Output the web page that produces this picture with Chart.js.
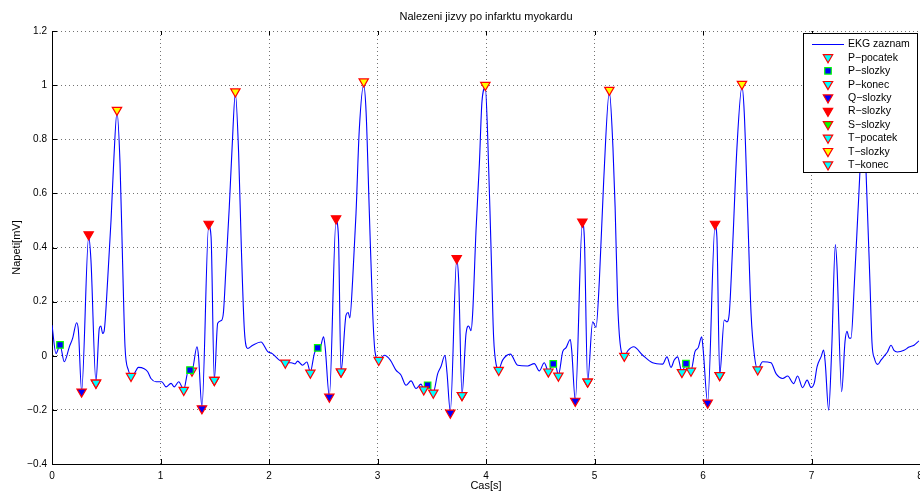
<!DOCTYPE html>
<html>
<head>
<meta charset="utf-8">
<title>Nalezeni jizvy po infarktu myokardu</title>
<script src="https://cdn.jsdelivr.net/npm/chart.js@4.4.1/dist/chart.umd.min.js"></script>
<style>
    html, body { margin: 0; padding: 0; background: #fff; }
    #wrap { width: 920px; height: 491px; position: relative; }
</style>
</head>
<body>
<div id="wrap"><canvas id="chartEkg"></canvas></div>
<script>
// EKG zaznam - cas [s] a napeti [mV]
const ekgCas = [
    0.0, 0.037, 0.074, 0.113, 0.16, 0.19, 0.227, 0.243, 0.273, 0.338, 0.359, 0.405, 0.436, 0.45, 0.467, 0.48,
    0.513, 0.544, 0.568, 0.599, 0.627, 0.651, 0.673, 0.704, 0.728, 0.759, 0.796, 0.85, 0.882, 0.912, 0.959,
    1.011, 1.051, 1.097, 1.127, 1.168, 1.214, 1.251, 1.272, 1.29, 1.336, 1.35, 1.382, 1.444, 1.466, 1.496,
    1.527, 1.56, 1.58, 1.604, 1.634, 1.66, 1.69, 1.72, 1.745, 1.773, 1.804, 1.85, 1.926, 1.988, 2.03, 2.095,
    2.15, 2.204, 2.24, 2.263, 2.309, 2.349, 2.381, 2.418, 2.449, 2.47, 2.503, 2.518, 2.556, 2.618, 2.64,
    2.664, 2.71, 2.73, 2.745, 2.771, 2.802, 2.832, 2.873, 2.895, 2.925, 2.956, 2.977, 3.011, 3.063, 3.118,
    3.17, 3.216, 3.263, 3.309, 3.355, 3.401, 3.426, 3.462, 3.514, 3.555, 3.585, 3.622, 3.64, 3.671, 3.73,
    3.748, 3.779, 3.816, 3.84, 3.862, 3.877, 3.908, 3.939, 3.963, 3.994, 4.014, 4.046, 4.07, 4.095, 4.117,
    4.153, 4.224, 4.292, 4.384, 4.445, 4.491, 4.537, 4.575, 4.62, 4.645, 4.667, 4.707, 4.738, 4.777, 4.79,
    4.823, 4.888, 4.906, 4.937, 4.983, 5.014, 5.045, 5.085, 5.137, 5.17, 5.19, 5.214, 5.245, 5.275, 5.31,
    5.361, 5.444, 5.536, 5.628, 5.668, 5.705, 5.735, 5.766, 5.806, 5.843, 5.889, 5.926, 5.956, 5.988, 6.0,
    6.043, 6.111, 6.128, 6.154, 6.196, 6.22, 6.242, 6.273, 6.313, 6.359, 6.38, 6.412, 6.443, 6.474, 6.504,
    6.55, 6.627, 6.673, 6.735, 6.78, 6.835, 6.872, 6.918, 6.96, 6.995, 7.026, 7.051, 7.088, 7.112, 7.127,
    7.158, 7.186, 7.22, 7.235, 7.278, 7.309, 7.327, 7.348, 7.364, 7.395, 7.426, 7.447, 7.472, 7.5, 7.539,
    7.558, 7.58, 7.61, 7.64, 7.677, 7.7, 7.733, 7.76, 7.79, 7.853, 7.899, 7.945, 7.99
];
const ekgNapeti = [
    0.113, 0.008, 0.04, -0.022, 0.033, 0.064, 0.122, 0.095, -0.13, 0.44, 0.353, -0.095, 0.101, 0.11, 0.082, 0.09,
    0.28, 0.5, 0.71, 0.9, 0.71, 0.34, 0.033, -0.053, -0.07, -0.065, -0.043, -0.048, -0.059, -0.084, -0.096,
    -0.096, -0.115, -0.102, -0.115, -0.096, -0.125, -0.059, -0.05, -0.055, 0.033, 0.0, -0.19, 0.48, 0.44, -0.088,
    0.12, 0.13, 0.16, 0.33, 0.55, 0.77, 0.97, 0.75, 0.4, 0.095, 0.027, 0.039, 0.051, 0.015, 0.008, -0.016,
    -0.026, -0.026, -0.03, -0.02, -0.035, -0.023, -0.06, 0.008, 0.029, 0.03, 0.07, 0.03, -0.15, 0.5, 0.44,
    -0.058, 0.15, 0.16, 0.14, 0.28, 0.526, 0.834, 1.0, 0.9, 0.526, 0.156, 0.015, -0.016, 0.002, -0.016,
    -0.053, -0.071, -0.109, -0.093, -0.121, -0.105, -0.122, -0.109, -0.135, -0.066, -0.04, 0.002, -0.06, -0.205, 0.355,
    0.28, -0.143, 0.082, 0.11, 0.093, 0.156, 0.464, 0.71, 0.94, 0.99, 0.83, 0.403, 0.07, -0.035, -0.05,
    -0.016, 0.006, -0.035, -0.038, -0.029, -0.056, -0.026, -0.057, -0.03, -0.04, -0.072, 0.015, 0.03, 0.06, 0.02,
    -0.165, 0.49, 0.44, -0.094, 0.125, 0.105, 0.28, 0.649, 0.975, 0.77, 0.55, 0.19, 0.02, -0.001, 0.02,
    0.033, 0.002, -0.026, -0.031, -0.004, -0.043, -0.016, -0.004, -0.06, -0.029, -0.055, 0.015, 0.03, 0.07, 0.03,
    -0.172, 0.48, 0.44, -0.07, 0.132, 0.125, 0.156, 0.403, 0.77, 0.995, 0.9, 0.526, 0.156, 0.0, -0.05,
    -0.022, -0.026, -0.066, -0.084, -0.075, -0.103, -0.075, -0.118, -0.09, -0.117, -0.1, -0.041, -0.004, 0.021, -0.028,
    -0.201, 0.021, 0.411, 0.33, -0.133, 0.053, 0.09, 0.065, 0.065, 0.267, 0.514, 0.686, 0.97, 0.71, 0.268,
    0.045, -0.01, -0.032, -0.016, 0.002, 0.014, 0.039, 0.02, 0.014, 0.02, 0.032, 0.039, 0.055
];

// detekovane body [cas, napeti]
const pPocatek = [[1.214, -0.127], [2.381, -0.063], [3.426, -0.125], [4.575, -0.059], [5.806, -0.061]];
const pSlozky  = [[0.074, 0.04], [1.272, -0.053], [2.449, 0.029], [3.462, -0.109], [4.62, -0.03], [5.843, -0.029]];
const pKonec   = [[1.29, -0.056], [3.514, -0.137], [4.667, -0.074], [5.889, -0.056]];
const qSlozky  = [[0.273, -0.133], [1.382, -0.195], [2.556, -0.152], [3.671, -0.211], [4.823, -0.167], [6.043, -0.174]];
const rSlozky  = [[0.338, 0.448], [1.444, 0.487], [2.618, 0.507], [3.73, 0.36], [4.888, 0.495], [6.111, 0.487]];
const sSlozky  = [[0.405, -0.1], [1.496, -0.09], [2.664, -0.059], [3.779, -0.146], [4.937, -0.096], [6.154, -0.072]];
const tPocatek = [[0.405, -0.1], [1.496, -0.09], [2.664, -0.059], [3.779, -0.146], [4.937, -0.096], [6.154, -0.072]];
const tSlozky  = [[0.599, 0.908], [1.69, 0.976], [2.873, 1.013], [3.994, 1.0], [5.137, 0.982], [6.359, 1.004]];
const tKonec   = [[0.728, -0.075], [2.15, -0.026], [3.011, -0.016], [4.117, -0.053], [5.275, -0.001], [6.504, -0.051]];

const yTicks = [-0.4, -0.2, 0, 0.2, 0.4, 0.6, 0.8, 1, 1.2];
const nazevGrafu = 'Nalezeni jizvy po infarktu myokardu';

Chart.defaults.font.family = '"Liberation Sans", Arial, Helvetica, sans-serif';
Chart.defaults.color = '#000';

function znacky(label, body, styl, vypln, okraj, poradi) {
    return {
        label: label,
        data: body.map(b => ({ x: b[0], y: b[1] })),
        showLine: false,
        pointStyle: styl,
        pointRotation: styl === 'triangle' ? 180 : 0,
        pointRadius: styl === 'triangle' ? 5.4 : 4.6,
        pointBorderWidth: 1.2,
        pointBackgroundColor: vypln,
        pointBorderColor: okraj,
        order: poradi || 0
    };
}

function kresliZnacku(ctx, ds, x, y) {
    const r = ds.pointRadius;
    ctx.beginPath();
    if (ds.pointStyle === 'rect') {
        const s = r * Math.SQRT1_2;
        ctx.rect(x - s, y - s, 2 * s, 2 * s);
    } else {
        ctx.moveTo(x, y + r);
        ctx.lineTo(x - r * 0.866, y - r / 2);
        ctx.lineTo(x + r * 0.866, y - r / 2);
        ctx.closePath();
    }
    ctx.fillStyle = ds.pointBackgroundColor;
    ctx.strokeStyle = ds.pointBorderColor;
    ctx.lineWidth = ds.pointBorderWidth;
    ctx.fill();
    ctx.stroke();
}

// nadpis nad stredem grafu + vnitrni carky os (jako v Matlabu)
const nadpisTicky = {
    id: 'nadpisTicky',
    afterDraw(chart) {
        const ctx = chart.ctx;
        const area = chart.chartArea;
        const sx = chart.scales.x, sy = chart.scales.y;
        ctx.save();
        ctx.fillStyle = '#000';
        ctx.font = '11px "Liberation Sans", Arial, sans-serif';
        ctx.textAlign = 'center';
        ctx.textBaseline = 'middle';
        ctx.fillText(nazevGrafu, (area.left + area.right) / 2, 17);

        ctx.strokeStyle = '#000';
        ctx.lineWidth = 1;
        ctx.beginPath();
        sx.ticks.forEach(t => {
            const px = Math.round(sx.getPixelForValue(t.value)) + 0.5;
            ctx.moveTo(px, area.bottom);
            ctx.lineTo(px, area.bottom - 5);
            ctx.moveTo(px, area.top);
            ctx.lineTo(px, area.top + 4);
        });
        sy.ticks.forEach(t => {
            const py = Math.round(sy.getPixelForValue(t.value)) + 0.5;
            ctx.moveTo(area.left, py);
            ctx.lineTo(area.left + 5, py);
        });
        ctx.stroke();
        ctx.restore();
    }
};

// legenda v ramecku uvnitr grafu (vpravo nahore)
const legendaBox = {
    id: 'legendaBox',
    afterDraw(chart) {
        const ctx = chart.ctx;
        const area = chart.chartArea;
        const w = 114, h = 139, rowH = 13.4;
        const x0 = area.right - w - 3, y0 = area.top + 2;
        ctx.save();
        ctx.fillStyle = '#fff';
        ctx.fillRect(x0, y0, w, h);
        ctx.strokeStyle = '#000';
        ctx.lineWidth = 1;
        ctx.strokeRect(x0 + 0.5, y0 + 0.5, w, h);
        ctx.font = '10.5px "Liberation Sans", Arial, sans-serif';
        ctx.textBaseline = 'middle';
        chart.data.datasets.forEach((ds, i) => {
            const y = y0 + 11 + i * rowH;
            if (ds.showLine === false) {
                kresliZnacku(ctx, ds, x0 + 25, y);
            } else {
                ctx.beginPath();
                ctx.strokeStyle = ds.borderColor;
                ctx.lineWidth = 1;
                ctx.moveTo(x0 + 9, y + 0.5);
                ctx.lineTo(x0 + 41, y + 0.5);
                ctx.stroke();
            }
            ctx.fillStyle = '#000';
            ctx.fillText(ds.label, x0 + 45, y + 0.5);
        });
        ctx.restore();
    }
};

const ctx = document.getElementById('chartEkg').getContext('2d');
new Chart(ctx, {
    type: 'scatter',
    data: {
        datasets: [
            {
                label: 'EKG zaznam',
                data: ekgCas.map((t, i) => ({ x: t, y: ekgNapeti[i] })),
                showLine: true,
                borderColor: '#0000ff',
                borderWidth: 1.1,
                pointRadius: 0,
                cubicInterpolationMode: 'monotone',
                order: 2
            },
            znacky('P\u2212pocatek', pPocatek, 'triangle', '#00ffff', '#ff0000'),
            znacky('P\u2212slozky', pSlozky, 'rect', '#0000ff', '#00ff00'),
            znacky('P\u2212konec', pKonec, 'triangle', '#00ffff', '#ff0000'),
            znacky('Q\u2212slozky', qSlozky, 'triangle', '#0000ff', '#ff0000'),
            znacky('R\u2212slozky', rSlozky, 'triangle', '#ff0000', '#ff0000'),
            znacky('S\u2212slozky', sSlozky, 'triangle', '#00ff00', '#ff0000', 1),
            znacky('T\u2212pocatek', tPocatek, 'triangle', '#00ffff', '#ff0000'),
            znacky('T\u2212slozky', tSlozky, 'triangle', '#ffff00', '#ff0000'),
            znacky('T\u2212konec', tKonec, 'triangle', '#00ffff', '#ff0000')
        ]
    },
    options: {
        responsive: true,
        maintainAspectRatio: false,
        animation: false,
        layout: { autoPadding: false, padding: { left: 0, right: 0, top: 31, bottom: 0 } },
        plugins: {
            legend: { display: false },
            tooltip: { enabled: false },
            title: { display: false }
        },
        scales: {
            x: {
                type: 'linear',
                min: 0,
                max: 8,
                ticks: { stepSize: 1, padding: 6, font: { size: 10 }, maxRotation: 0 },
                grid: { color: 'rgba(0,0,0,0.55)', drawTicks: false },
                border: { display: true, color: '#000', width: 1, dash: [1, 3] },
                title: { display: true, text: 'Cas[s]', font: { size: 11 }, padding: { top: 0, bottom: -2 } },
                afterFit: (scale) => {
                    scale.height = 27;
                    scale.paddingLeft = 0;
                    scale.paddingRight = 0;
                }
            },
            y: {
                min: -0.4,
                max: 1.2,
                afterBuildTicks: (scale) => {
                    scale.ticks = yTicks.map(v => ({ value: v }));
                },
                ticks: {
                    padding: 5,
                    font: { size: 10 },
                    callback: (v) => String(Math.round(v * 10) / 10).replace('-', '\u2212')
                },
                grid: { color: 'rgba(0,0,0,0.55)', drawTicks: false },
                border: { display: true, color: '#000', width: 1, dash: [1, 3] },
                title: { display: true, text: 'Napeti[mV]', font: { size: 11 }, padding: { top: 10, bottom: 0 } },
                afterFit: (scale) => {
                    scale.width = 52;
                    scale.paddingTop = 0;
                    scale.paddingBottom = 0;
                }
            }
        }
    },
    plugins: [nadpisTicky, legendaBox]
});
</script>
</body>
</html>
